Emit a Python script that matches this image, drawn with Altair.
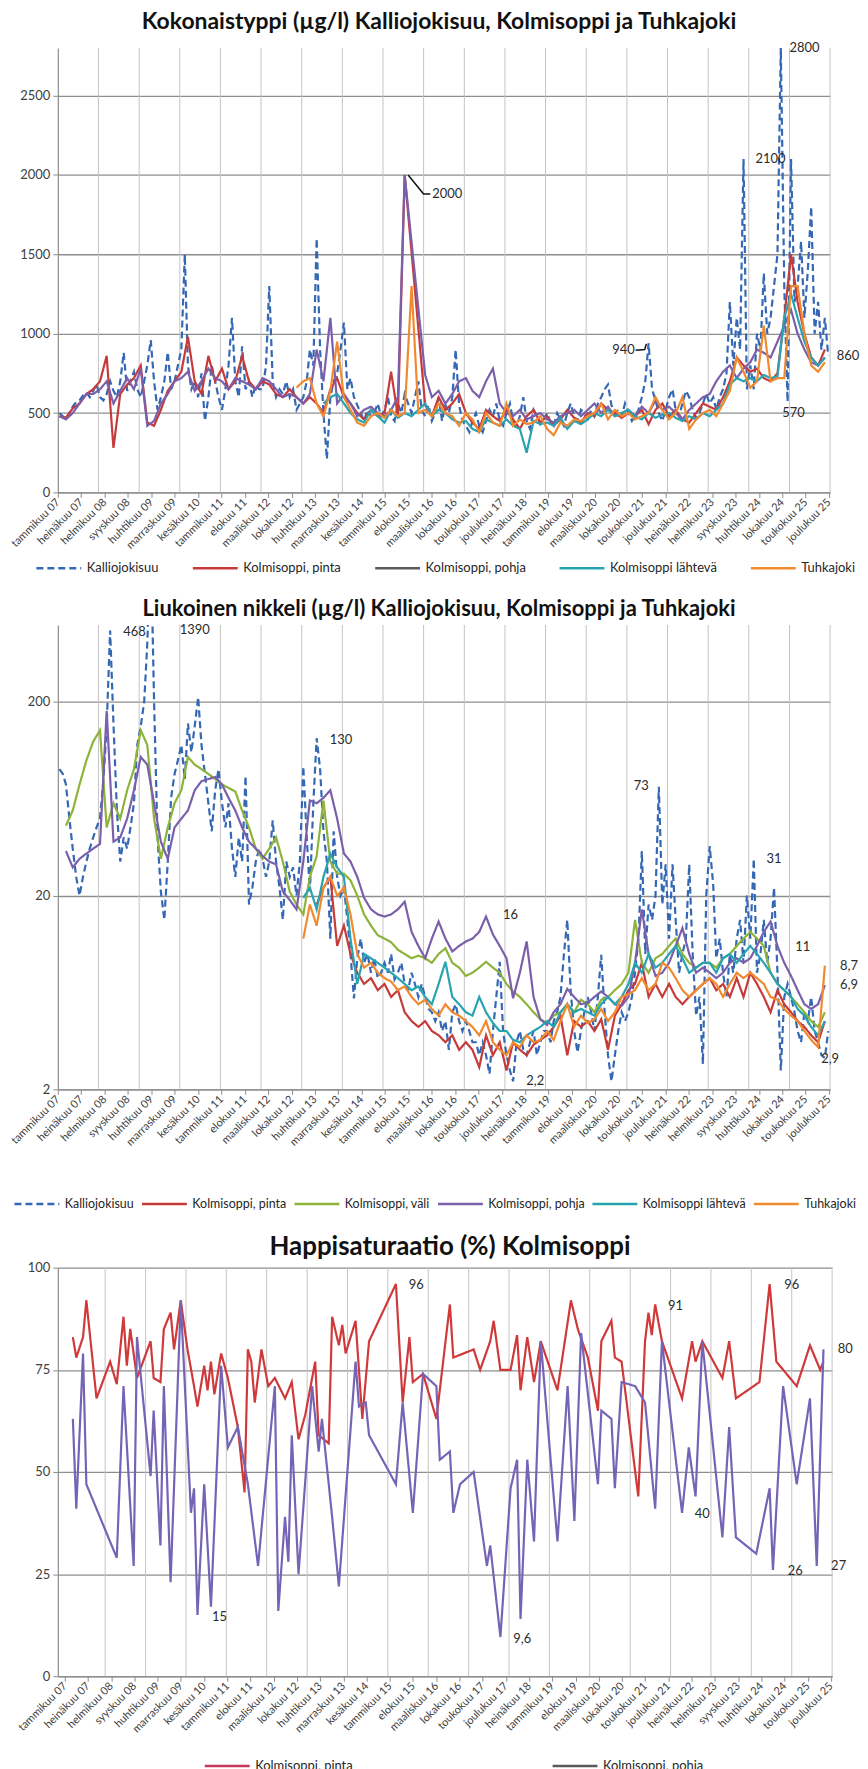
import altair as alt
import pandas as pd

FONT = "Lato"

# ---------------- Chart 1: Kokonaistyppi (monthly Kalliojokisuu, bimonthly others) ----------------
K1 = [
    500, 480, 460, 500, 540, 570, 580, 610, 630, 600, 640, 680,
    600, 580, 620, 700, 640, 600, 700, 880, 640, 700, 760, 650,
    600, 700, 800, 960, 700, 520, 600, 700, 885, 650, 700, 800,
    900, 1500, 800, 650, 700, 600, 750, 450, 600, 800, 700, 600,
    520, 650, 800, 1100, 700, 600, 920, 650, 700, 600, 680, 650,
    650, 800, 1300, 700, 600, 650, 620, 700, 600, 650, 520, 560,
    600, 700, 900, 800, 1600, 900, 500, 210, 600, 700, 750, 900,
    1070, 650, 720, 600, 550, 500, 450, 520, 480, 500, 560, 480,
    520, 600, 480, 450, 560, 500, 620, 560, 500, 600, 700, 520,
    480, 550, 450, 500, 600, 450, 550, 500, 600, 900, 550, 450,
    420, 380, 450, 500, 420, 380, 450, 520, 480, 560, 450, 420,
    500, 560, 450, 420, 480, 600, 450, 400, 520, 480, 430, 460,
    500, 440, 420, 500, 460, 420, 500, 560, 480, 450, 520, 500,
    450, 520, 480, 560, 600, 650, 680, 550, 500, 520, 480, 560,
    500, 450, 480, 520, 600, 700, 940, 650, 580, 500, 450, 520,
    600, 650, 520, 480, 560, 640, 600, 520, 470, 500, 560, 620,
    560, 600, 520, 600, 650, 750, 1200, 800, 1100, 900, 2100, 650,
    800, 650, 1000, 900, 1380, 1000, 1100, 1300, 1500, 2800, 1300, 570,
    2100, 1200, 1300, 1580, 1100, 1400, 1800, 1000, 1200, 900, 1100, 860,
]
P1 = [
    480, 470, 530, 560, 620, 650,
    700, 860, 280, 620, 680, 720,
    800, 440, 420, 520, 640, 700,
    760, 980, 700, 620, 860, 700,
    780, 650, 700, 860, 700, 650,
    700, 680, 620, 600, 650, 600,
    560, 600, 560, 500, 650, 720,
    600, 560, 500, 460, 520, 480,
    500, 760, 480, 2000, None, None,
    550, 480, 600, 520, 560, 620,
    500, 440, 400, 520, 480, 450,
    520, 460, 400, 480, 520, 440,
    480, 420, 460, 520, 470, 440,
    500, 480, 560, 520, 500, 470,
    500, 480, 520, 430, 520, 560,
    480, 520, 460, 440, 500, 560,
    540, 520, 600, 700, 850, 800,
    760, 780, 720, 700, 750, 1100,
    1500, 1200, 1000, 850, 800, 900,
]
B1 = [
    480, 460, 500, 560, 620, 620,
    650, 700, 560, 640, 720, 650,
    780, 420, 450, 560, 620, 700,
    720, 760, 640, 700, 780, 720,
    700, 650, 720, 700, 680, 650,
    720, 700, 650, 600, 620, 600,
    560, 620, 900, 700, 1100, 560,
    620, 560, 480, 520, 540, 500,
    480, 520, 600, 2000, None, None,
    740, 600, 640, 560, 620, 700,
    720, 640, 600, 700, 780, 560,
    500, 480, 520, 460, 480, 500,
    460, 440, 480, 500, 520, 480,
    520, 560, 500, 540, 480, 500,
    520, 480, 540, 500, 580, 520,
    540, 500, 460, 520, 560, 600,
    620, 700, 760, 800, 720, 780,
    820, 900, 880, 850, 950, 1050,
    1150, 1000, 900, 820, 800, 850,
]
L1 = [None] * 36 + [
    None, None, None, 560, 600, 620,
    560, 500, 460, 440, 520, 480,
    440, 520, 470, 500, 480, 520,
    560, 480, 520, 500, 460, 440,
    450, 400, 380, 460, 440, 420,
    460, 420, 400, 250, 450, 430,
    440, 420, 470, 400, 450, 430,
    460, 500, 480, 520, 480, 500,
    520, 480, 460, 500, 470, 490,
    500, 470, 450, 480, 460, 500,
    480, 520, 560, 680, 720, 700,
    720, 700, 740, 720, 730, 1100,
    1250, 1100, 950, 850, 800, 850,
]
T1 = [None] * 30 + [
    None, None, None, None, None, 660,
    700, 720, 560, 480, 640, 950,
    600, 520, 440, 420, 480, 500,
    470, 520, 480, 500, 1300, 500,
    520, 480, 560, 500, 480, 420,
    500, 460, 380, 500, 440, 420,
    560, 420, 460, 430, 440, 480,
    400, 360, 440, 420, 460, 450,
    480, 500, 560, 460, 520, 480,
    500, 460, 480, 500, 600, 520,
    460, 500, 600, 400, 460, 500,
    520, 480, 560, 640, 850, 760,
    660, 700, 1050, 700, 720, 720,
    1300, 1300, 1000, 800, 760, 820,
]
ANN1_TEXT = ["2800", "2100", "2000", "940", "570", "860"]
ANN1_DATE = ["2025-05-15", "2024-07-15", "2016-08-01", "2020-12-01", "2025-02-05", "2026-06-10"]
ANN1_VALUE = [2800, 2100, 1880, 900, 500, 860]
LEAD1A_DATE = ["2015-08-15", "2016-01-01", "2016-03-01"]
LEAD1A_VALUE = [2000, 1880, 1880]
LEAD1B_DATE = ["2021-03-20", "2021-06-10", "2021-06-25"]
LEAD1B_VALUE = [895, 900, 935]

# ---------------- Chart 2: Liukoinen nikkeli ----------------
K2 = [
    90, 85, 75, 50, 35, 25, 20, 25, 30, 35, 40, 45,
    50, 80, 150, 468, 155, 55, 30, 40, 35, 45, 60, 120,
    150, 200, 400, 1390, 200, 40, 21, 15, 30, 64, 85, 100,
    120, 80, 155, 110, 150, 212, 120, 85, 60, 43, 70, 90,
    60, 45, 60, 35, 25, 40, 30, 83, 18, 22, 30, 35,
    31, 25, 30, 49, 30, 22, 15, 30, 25, 28, 20, 30,
    93, 40, 21, 60, 130, 90, 43, 30, 12, 43, 25, 20,
    22, 15, 10, 5.9, 9.5, 12, 9, 10, 8, 9.5, 7.5, 8,
    9, 8, 10, 7.4, 8, 9, 7, 6.5, 8, 7, 6, 7,
    6, 5.2, 5, 4.5, 5, 4, 4.5, 3.2, 5, 5.5, 4.5, 4,
    4.5, 4, 3.5, 3.5, 3, 3.5, 3, 2.4, 4, 6, 9.1, 4,
    3, 2.5, 2.2, 3.5, 4, 3.2, 3, 3.5, 4, 3, 3.5, 4,
    4, 3.5, 4.5, 5, 6, 10, 15, 6.4, 4, 3.1, 4, 5,
    6, 5, 4, 6, 9.9, 5, 3, 2.2, 3, 4, 5, 4.5,
    5, 6, 8, 12, 34, 10, 18, 15, 20, 73, 18, 29,
    12, 29, 15, 8, 10, 12, 29, 10, 4.8, 6, 2.7, 20,
    36, 23, 9.5, 12, 8, 6, 10, 8, 12, 15, 9, 20,
    12, 31, 8, 10, 15, 9, 12, 22, 8, 2.5, 6, 7,
    6, 5, 4, 3.5, 5, 4.5, 6, 4, 3.5, 3, 2.9, 4,
]
P2 = [None] * 36 + [
    None, None, 18, 22, 25, 11,
    14, 10, 8, 7, 7.5, 6.5,
    7, 6, 6.5, 5, 4.5, 4.2,
    4.5, 4, 3.8, 3.5, 3.8, 3.2,
    3.5, 3.2, 2.6, 3.8, 3.0, 3.5,
    2.5, 3.5, 3.2, 3.0, 3.4, 3.6,
    3.8, 4.2, 4.8, 3.0, 4.5, 4.2,
    4.5, 4.0, 4.6, 3.2, 4.8, 5.5,
    6.5, 7, 9, 6, 7, 6,
    7, 6, 5.5, 6, 6.5, 7,
    7.5, 6.5, 7, 6, 7.5, 6,
    8, 7, 6, 5, 6.5, 5.5,
    5, 4.5, 4.2, 3.8, 3.5, 4.5,
]
V2 = [
    None, 46, 55, 75, 100, 125,
    143, 45, 60, 50, 70, 90,
    143, 120, 50, 31, 45, 60,
    70, 104, 95, 90, 85, 80,
    75, 72, 69, 55, 45, 35,
    31, 35, 40, 30, 21, 18,
    16, 25, 32, 62, 30, 26,
    26, 24, 20, 16, 14, 12.5,
    12, 11.5, 10.5, 10, 9.5, 9.8,
    9.5, 9, 10, 10.7, 9, 8.5,
    7.7, 8, 8.5, 9.1, 8.5, 8,
    7, 6.4, 6, 5.5, 5, 4.6,
    4.4, 4.8, 5, 5.5, 5, 5.8,
    5.5, 5, 5.8, 6, 6.5, 7,
    8, 15, 9, 8, 9.5, 10,
    11, 12, 10, 9, 8.5, 9,
    9, 8.5, 9.5, 10, 11, 12,
    13, 12, 11, 8, 7, 6.5,
    6, 5.5, 5, 4.5, 4.2, 5,
]
B2 = [
    None, 34, 28, 31, 33, 35,
    37, 180, 38, 40, 50, 70,
    104, 95, 60, 38, 31, 45,
    50, 55, 70, 78, 80, 82,
    75, 64, 55, 45, 38, 35,
    32, 30, 29, 21, 19, 17,
    30, 62, 60, 64, 70, 50,
    33, 30, 25, 19.5, 17, 16,
    15.6, 16, 17, 18.6, 13, 11,
    9.5, 12, 14.7, 12, 10.3, 11,
    11.6, 12, 13, 15.6, 12.6, 11,
    9.5, 5.9, 8, 11.6, 6, 4.6,
    4.3, 5, 5.5, 6.6, 6, 5.5,
    5.6, 6, 6.4, 6, 5.5, 5.4,
    6, 9, 17, 10, 7.7, 8,
    9, 11, 13.6, 10, 8, 8.5,
    8, 7.5, 8, 9, 9.5, 9,
    9.5, 11, 13, 14.7, 11, 9,
    7.7, 6.5, 5.5, 5.2, 5.5, 6.9,
]
L2 = [None] * 36 + [
    19.5, 22, 17, 25, 33, 28,
    25, 12, 7, 10, 9.5, 9,
    8.5, 8, 7.5, 7, 6.5, 6.8,
    6, 5.5, 7, 9.1, 6, 5.5,
    5, 4.8, 6, 5, 4.4, 4,
    4.0, 3.6, 3.5, 3.8, 4, 4.2,
    4.5, 4.2, 5, 5.5, 5, 5.2,
    5, 4.8, 5.5, 6, 5.5, 6,
    7, 9, 8, 10, 8.5, 9,
    10, 11, 9.5, 8, 8.5, 9,
    9, 8, 9.5, 10, 9, 10,
    11, 10, 9, 8, 7, 6.5,
    6, 5.2, 4.8, 4.2, 3.8, 4.5,
]
T2 = [None] * 36 + [
    12, 18, 14, 22, 25, 20,
    22, 16, 10, 8.5, 9, 8,
    7.5, 7.2, 6.5, 6.8, 6, 5.5,
    5.8, 5.2, 4.8, 5.5, 5, 4.8,
    4.5, 4.2, 3.8, 4.5, 3.5, 3.2,
    3.0, 3.5, 3.3, 3.8, 3.5, 3.6,
    4.0, 3.6, 4.5, 5.5, 4.2, 4.8,
    4.4, 4.6, 5.2, 4.5, 5, 6,
    6.2, 6.5, 7.5, 6.5, 7, 9,
    8.5, 7.5, 6.5, 6, 6.5, 7,
    7.5, 7, 6, 7, 8, 7.5,
    8, 7.5, 7, 6, 5.8, 5.2,
    4.8, 4.5, 4.0, 3.6, 3.3, 8.7,
]
ANN2_TEXT = ["468", "1390", "130", "73", "31", "16", "11", "2,2", "2,9", "8,7", "6,9"]
ANN2_DATE = ["2008-11-20", "2010-05-15", "2013-12-20", "2021-05-10", "2024-08-15", "2018-02-20",
             "2025-05-01", "2018-10-01", "2026-01-01", "2026-06-20", "2026-06-20"]
ANN2_VALUE = [458, 470, 127, 74, 30.8, 15.9, 10.8, 2.2, 2.86, 8.7, 6.9]

# ---------------- Chart 3: Happisaturaatio ----------------
R3_DATES = [
    "2007-03", "2007-04", "2007-06", "2007-07", "2007-10", "2008-02", "2008-04", "2008-06", "2008-07",
    "2008-08", "2008-10", "2009-02", "2009-03", "2009-05", "2009-06", "2009-08", "2009-09", "2009-11",
    "2010-01", "2010-03", "2010-04", "2010-06", "2010-07", "2010-08", "2010-09", "2010-11", "2011-01",
    "2011-04", "2011-06", "2011-07", "2011-08", "2011-09", "2011-11", "2012-01", "2012-03", "2012-06",
    "2012-08", "2012-10", "2012-12", "2013-03", "2013-04", "2013-07", "2013-08", "2013-10", "2013-11",
    "2013-12", "2014-03", "2014-05", "2014-07", "2015-03", "2015-05", "2015-07", "2015-08", "2015-11",
    "2016-03", "2016-07", "2016-08", "2017-02", "2017-04", "2017-07", "2017-08", "2017-10", "2018-01",
    "2018-03", "2018-04", "2018-06", "2018-08", "2018-10", "2019-03", "2019-07", "2019-09", "2019-12",
    "2020-03", "2020-04", "2020-07", "2020-08", "2020-10", "2021-03", "2021-05", "2021-06", "2021-07",
    "2021-08", "2021-10", "2022-04", "2022-07", "2022-08", "2022-10", "2023-04", "2023-06", "2023-08",
    "2024-03", "2024-06", "2024-08", "2025-02", "2025-06", "2025-09", "2025-10",
]
R3_VALUES = [
    83, 78, 83, 92, 68, 77, 71.5, 88, 76,
    85, 73, 82, 73, 72, 85, 89, 80, 92,
    80, 71, 66, 76, 70, 77, 69, 79, 73,
    61, 45, 80, 77, 67, 80, 71, 73, 68,
    72, 58, 64, 77, 59, 57, 88, 81, 86,
    79, 87, 63, 82, 96, 67, 83, 72, 74,
    63, 91, 78, 80, 75, 82, 87, 75, 75,
    83.5, 70, 83, 72, 82, 70, 92, 85, 78,
    65, 82, 87, 78, 77, 44, 82, 89, 83.5,
    91, 82, 68, 82, 77, 82, 73, 82, 68,
    72, 96, 77, 71, 81, 75, 77,
]
P3_DATES = [
    "2007-03", "2007-04", "2007-06", "2007-07", "2008-04", "2008-06", "2008-09", "2008-10", "2009-02",
    "2009-03", "2009-05", "2009-06", "2009-08", "2009-11", "2010-02", "2010-03", "2010-04", "2010-06",
    "2010-08", "2010-11", "2011-01", "2011-04", "2011-07", "2011-10", "2012-03", "2012-04", "2012-06",
    "2012-07", "2012-08", "2012-10", "2013-02", "2013-04", "2013-05", "2013-08", "2013-10", "2014-03",
    "2014-04", "2014-06", "2014-07", "2015-03", "2015-05", "2015-08", "2015-11", "2016-03", "2016-04",
    "2016-07", "2016-08", "2016-10", "2017-02", "2017-06", "2017-07", "2017-10", "2018-01", "2018-03",
    "2018-04", "2018-06", "2018-08", "2018-10", "2019-03", "2019-06", "2019-08", "2019-10", "2020-03",
    "2020-04", "2020-07", "2020-08", "2020-10", "2021-02", "2021-05", "2021-08", "2021-10", "2022-04",
    "2022-06", "2022-08", "2022-10", "2023-04", "2023-06", "2023-08", "2024-02", "2024-06", "2024-07",
    "2024-10", "2025-02", "2025-06", "2025-08", "2025-10",
]
P3_VALUES = [
    63, 41, 79, 47, 29, 71, 27, 83, 49,
    65, 32, 71, 23, 92, 40, 46, 15, 47,
    17, 76, 56, 61, 47, 27, 71, 16, 39,
    28, 59, 25, 71, 55, 63, 39, 22, 77,
    66, 67, 59, 47, 67, 40, 74, 71, 53,
    55, 40, 47, 50, 27, 32, 9.6, 46, 53,
    14, 53, 33, 82, 33, 71, 38, 84, 47,
    65, 63, 46, 72, 71, 67, 41, 82, 40,
    56, 44, 82, 34, 61, 34, 30, 46, 26,
    71, 47, 68, 27, 80,
]
ANN3_TEXT = ["96", "96", "91", "15", "9,6", "40", "26", "27", "80"]
ANN3_DATE = ["2015-09-15", "2025-01-01", "2022-02-15", "2010-11-01", "2018-05-01", "2022-10-15",
             "2025-02-01", "2026-03-01", "2026-05-01"]
ANN3_VALUE = [95.7, 95.7, 90.7, 14.5, 9.1, 39.8, 25.8, 27, 80]

NAMES1 = ["Kalliojokisuu", "Kolmisoppi, pinta", "Kolmisoppi, pohja", "Kolmisoppi lähtevä", "Tuhkajoki"]
NAMES2 = ["Kalliojokisuu", "Kolmisoppi, pinta", "Kolmisoppi, väli", "Kolmisoppi, pohja",
          "Kolmisoppi lähtevä", "Tuhkajoki"]
NAMES3 = ["Kolmisoppi, pinta", "Kolmisoppi, pohja"]

for arr in (K1, K2):
    assert len(arr) == 228, len(arr)
for arr in (P1, B1, L1, T1, P2, V2, B2, L2, T2):
    assert len(arr) == 114, len(arr)
assert len(R3_DATES) == len(R3_VALUES) and len(P3_DATES) == len(P3_VALUES)

# ---------------- helpers ----------------
BLUE, RED, PURPLE, TEAL, ORANGE, GREEN = "#3468B4", "#C73A3A", "#7A5FAA", "#27A3B1", "#F18A2E", "#8DB33A"
GRAY_LEG = "#5a5a5a"
DASH = [7, 4]
SOLID = [1, 0]


def monthly(vals):
    rows = [{"date": f"{2007 + i // 12}-{i % 12 + 1:02d}-15", "value": v}
            for i, v in enumerate(vals) if v is not None]
    return pd.DataFrame(rows)


def bimonthly(vals):
    rows = [{"date": f"{2007 + i // 6}-{2 * (i % 6) + 1:02d}-15", "value": v}
            for i, v in enumerate(vals) if v is not None]
    return pd.DataFrame(rows)


def dated(dates, vals):
    return pd.DataFrame({"date": [d + "-15" for d in dates], "value": vals})


MONTHS = ["tammikuu", "helmikuu", "maaliskuu", "huhtikuu", "toukokuu", "kesäkuu",
          "heinäkuu", "elokuu", "syyskuu", "lokakuu", "marraskuu", "joulukuu"]
LABEL_EXPR = "[" + ",".join(f"'{m}'" for m in MONTHS) + "][utcmonth(datum.value)] + ' ' + utcFormat(datum.value, '%y')"
tick_dates = pd.date_range("2007-01-01", periods=34, freq="210D")
TICKS = [alt.DateTime(year=int(d.year), month=int(d.month), date=int(d.day), utc=True) for d in tick_dates]
END = alt.DateTime(year=2026, month=1, date=1, utc=True)

XAXIS = alt.Axis(values=TICKS, labelExpr=LABEL_EXPR, labelAngle=-45, labelAlign="right",
                 labelBaseline="middle", labelFont=FONT, labelFontSize=11, labelColor="#404040",
                 labelPadding=3, labelOverlap=False, labelFlush=False, grid=False, ticks=True,
                 tickSize=5, tickColor="#8c8c8c", domainColor="#8c8c8c", domainWidth=1.2, title=None)

GRID_YEARS = pd.DataFrame({"date": [f"{y}-01-01" for y in range(2008, 2027)]})


def yaxis(values):
    return alt.Axis(values=values, format="d", grid=True, gridColor="#8e8e8e", gridWidth=1.3,
                    domainColor="#8c8c8c", domainWidth=1.2, tickColor="#8c8c8c", tickSize=5,
                    labelFont=FONT, labelFontSize=13, labelColor="#404040", labelPadding=3,
                    minExtent=48, maxExtent=48, title=None)


def build(key, series, ann, leads, legend, xscale, yscale, yax, width, height, title, tsize, toffset, tdx):
    X = alt.X("date:T", scale=xscale, axis=XAXIS, title=None)
    Y = alt.Y("value:Q", scale=yscale, axis=yax, title=None)
    layers = [alt.Chart(GRID_YEARS).mark_rule(color="#c4c4c4", strokeWidth=1).encode(x=X)]
    for df, color, dash in series:
        layers.append(alt.Chart(df).mark_line(color=color, strokeWidth=2.2, strokeDash=dash,
                                              clip=True).encode(x=X, y=Y))
    for df in leads:
        layers.append(alt.Chart(df).mark_line(color="#111111", strokeWidth=1.5).encode(x=X, y=Y))
    layers.append(alt.Chart(ann).mark_text(font=FONT, fontSize=13, color="#2b2b2b").encode(
        x=X, y=Y, text="text:N"))
    names, colors, dashes, lx, ly, pad, lsize = legend
    leg = alt.Legend(title=None, orient="none", legendX=lx, legendY=ly, direction="horizontal",
                     columns=len(names), gridAlign="none", symbolType="stroke", symbolSize=2025,
                     symbolStrokeWidth=2.5, labelFont=FONT, labelFontSize=lsize, labelColor="#262626",
                     columnPadding=pad, labelOffset=4, labelLimit=0, padding=0)
    legdf = pd.DataFrame({key: names, "date": ["2010-01-01"] * len(names), "value": [10] * len(names)})
    layers.append(alt.Chart(legdf).transform_filter("false").mark_line().encode(
        x=X, y=Y,
        color=alt.Color(f"{key}:N", scale=alt.Scale(domain=names, range=colors), legend=leg),
        strokeDash=alt.StrokeDash(f"{key}:N", scale=alt.Scale(domain=names, range=dashes), legend=leg)))
    return alt.layer(*layers).properties(
        width=width, height=height,
        title=alt.TitleParams(title, font=FONT, fontSize=tsize, fontWeight="bold", color="#111111",
                              anchor="middle", offset=toffset, dx=tdx))


# ---------------- chart 1 ----------------
ann1 = pd.DataFrame({"text": ANN1_TEXT, "date": ANN1_DATE, "value": ANN1_VALUE})
lead1 = [pd.DataFrame({"date": LEAD1A_DATE, "value": LEAD1A_VALUE}),
         pd.DataFrame({"date": LEAD1B_DATE, "value": LEAD1B_VALUE})]
xs1 = alt.Scale(domain=[alt.DateTime(year=2007, month=1, date=1, utc=True), END], nice=False)
c1 = build(
    "sarja1",
    [(monthly(K1), BLUE, DASH), (bimonthly(P1), RED, SOLID), (bimonthly(B1), PURPLE, SOLID),
     (bimonthly(L1), TEAL, SOLID), (bimonthly(T1), ORANGE, SOLID)],
    ann1, lead1,
    (NAMES1, [BLUE, RED, GRAY_LEG, TEAL, ORANGE], [DASH, SOLID, SOLID, SOLID, SOLID], -23, 498, 28, 13),
    xs1, alt.Scale(domain=[0, 2800], nice=False), yaxis([0, 500, 1000, 1500, 2000, 2500]),
    775, 446, "Kokonaistyppi (µg/l) Kalliojokisuu, Kolmisoppi ja Tuhkajoki", 23, 8, -5)

# ---------------- chart 2 ----------------
ann2 = pd.DataFrame({"text": ANN2_TEXT, "date": ANN2_DATE, "value": ANN2_VALUE})
c2 = build(
    "sarja2",
    [(monthly(K2), BLUE, DASH), (bimonthly(P2), RED, SOLID), (bimonthly(V2), GREEN, SOLID),
     (bimonthly(B2), PURPLE, SOLID), (bimonthly(L2), TEAL, SOLID), (bimonthly(T2), ORANGE, SOLID)],
    ann2, [],
    (NAMES2, [BLUE, RED, GREEN, PURPLE, TEAL, ORANGE], [DASH, SOLID, SOLID, SOLID, SOLID, SOLID], -45, 557, 2, 12.5),
    xs1, alt.Scale(type="log", domain=[2, 500], nice=False), yaxis([2, 20, 200]),
    775, 466, "Liukoinen nikkeli (µg/l) Kalliojokisuu, Kolmisoppi ja Tuhkajoki", 22, 3, -5)

# ---------------- chart 3 ----------------
ann3 = pd.DataFrame({"text": ANN3_TEXT, "date": ANN3_DATE, "value": ANN3_VALUE})
xs3 = alt.Scale(domain=[alt.DateTime(year=2006, month=10, date=30, utc=True), END], nice=False)
c3 = build(
    "sarja3",
    [(dated(R3_DATES, R3_VALUES), "#D0393A", SOLID), (dated(P3_DATES, P3_VALUES), "#7563B6", SOLID)],
    ann3, [],
    (NAMES3, ["#C8385A", GRAY_LEG], [SOLID, SOLID], 146, 476, 194, 13),
    xs3, alt.Scale(domain=[0, 100], nice=False), yaxis([0, 25, 50, 75, 100]),
    777, 410, "Happisaturaatio (%) Kolmisoppi", 26, 2, 5)

chart = alt.vconcat(c1, c2, c3, spacing=23).resolve_scale(
    color="independent", strokeDash="independent").resolve_legend(
    color="independent", strokeDash="independent").configure_view(stroke=None).properties(
    background="white", padding=0)
chart.save("out.html", embed_options={"renderer": "svg", "actions": False})
